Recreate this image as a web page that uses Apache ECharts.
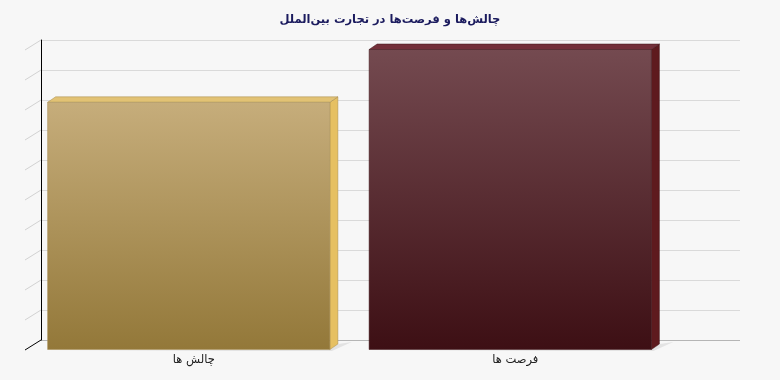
<!DOCTYPE html>
<html><head><meta charset="utf-8">
<script src="https://cdn.jsdelivr.net/npm/echarts@6/dist/echarts.min.js"></script>
<style>html,body{margin:0;padding:0;background:#f7f7f7}#c{width:780px;height:380px}</style>
</head><body><div id="c"></div>
<script>
var titleText = 'چالش‌ها و فرصت‌ها در تجارت بین‌الملل';
var categories = ['چالش ها', 'فرصت ها'];
var values = [8.24, 10];
var wallTicks = [0,1,2,3,4,5,6,7,8,9,10];

var faceTop = ['#c6ad7b', '#744a50'];
var faceBot = ['#937839', '#3d0f14'];
var sideCol = ['#e6c062', '#5e1a1e'];
var topCol = ['#e2c274', '#73303a'];
var edgeCol = ['#a48a50', '#3e1418'];

var chart = echarts.init(document.getElementById('c'), null, {renderer:'canvas'});
var DX = 8, DY = -5.5;
chart.setOption({
  backgroundColor: '#f7f7f7',
  animation: false,
  title: {text: titleText, left: 'center', top: 9,
    textStyle: {fontFamily: 'DejaVu Sans', fontSize: 11.5, fontWeight: 'bold', color: '#1b1b5e'}},
  grid: [
    {left: 41, right: 40, top: 40, bottom: 40},
    {left: 28, right: 109, top: 49.5, bottom: 30.5}
  ],
  xAxis: [
    {gridIndex: 0, type: 'value', min: 0, max: 1, show: false},
    {gridIndex: 1, type: 'category', data: categories,
      axisLine: {show: false}, axisTick: {show: false}, splitLine: {show: false},
      axisLabel: {margin: 5, padding: [0, 0, 0, 10], fontFamily: 'DejaVu Sans', fontSize: 11.5, color: '#222'}}
  ],
  yAxis: [
    {gridIndex: 0, type: 'value', min: 0, max: 10, interval: 1,
      axisLine: {show: true, lineStyle: {color: '#000', width: 1}},
      axisTick: {show: false}, axisLabel: {show: false},
      splitLine: {show: true, lineStyle: {color: ['#b5b5b5','#dadada','#dadada','#dadada','#dadada','#dadada','#dadada','#dadada','#dadada','#dadada','#dadada'], width: 1}}},
    {gridIndex: 1, type: 'value', min: 0, max: 10, show: false}
  ],
  series: [
    {
      type: 'custom', xAxisIndex: 0, yAxisIndex: 0, silent: true,
      data: wallTicks.map(function(v){ return [0, v]; }),
      renderItem: function(params, api){
        var p = api.coord([0, api.value(1)]);
        var isZero = api.value(1) === 0;
        return {type: 'line', shape: {x1: p[0], y1: p[1], x2: p[0]-16, y2: p[1]+10},
          style: {stroke: isZero ? '#000' : '#d2d2d2', lineWidth: 1}};
      }
    },
    {
      type: 'custom', xAxisIndex: 1, yAxisIndex: 1, silent: true,
      data: values.map(function(v, i){ return [i, v]; }),
      renderItem: function(params, api){
        var i = params.dataIndex;
        var t = api.coord([api.value(0), api.value(1)]);
        var b = api.coord([api.value(0), 0]);
        var bw = api.size([1, 0])[0] * 0.878;
        var l = t[0] - bw/2, r = t[0] + bw/2;
        return {type: 'group', children: [
          {type: 'polygon', shape: {points: [[l-6, b[1]+1.5],[r+2, b[1]+1.5],[r+DX+14, b[1]+DY-2],[r+DX, b[1]+DY],[r, b[1]]]},
            style: {fill: 'rgba(0,0,0,0.08)'}},
          {type: 'polygon', shape: {points: [[r, t[1]],[r+DX, t[1]+DY],[r+DX, b[1]+DY],[r, b[1]]]},
            style: {fill: sideCol[i], stroke: edgeCol[i], lineWidth: 0.5}},
          {type: 'polygon', shape: {points: [[l, t[1]],[l+DX, t[1]+DY],[r+DX, t[1]+DY],[r, t[1]]]},
            style: {fill: topCol[i], stroke: edgeCol[i], lineWidth: 0.5}},
          {type: 'rect', shape: {x: l, y: t[1], width: bw, height: b[1]-t[1]},
            style: {fill: new echarts.graphic.LinearGradient(0, 0, 0, 1, [
              {offset: 0, color: faceTop[i]}, {offset: 1, color: faceBot[i]}]),
              stroke: edgeCol[i], lineWidth: 0.5}}
        ]};
      }
    }
  ]
});
</script></body></html>
